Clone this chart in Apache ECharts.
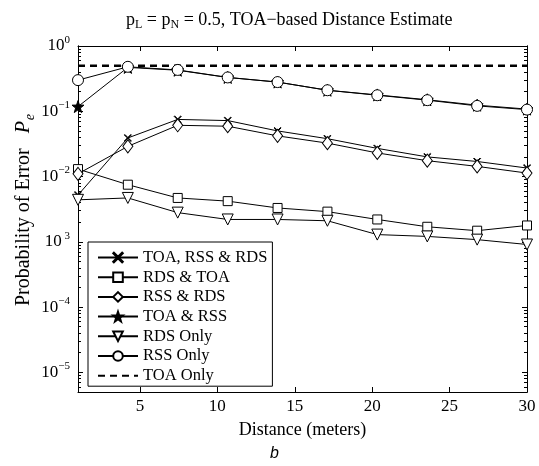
<!DOCTYPE html>
<html>
<head>
<meta charset="utf-8">
<script src="https://cdn.jsdelivr.net/npm/echarts@6/dist/echarts.min.js"></script>
<style>
  html, body { margin: 0; padding: 0; background: #fff; }
  #chart { width: 539px; height: 466px; }
</style>
</head>
<body>
<div id="chart"></div>
<script>
// distances where each curve was evaluated (meters)
const distances = [1, 4.22, 7.44, 10.67, 13.89, 17.11, 20.33, 23.56, 26.78, 30];

const toaRssRds = [0.0052, 0.039, 0.075, 0.072, 0.050, 0.038, 0.027, 0.020, 0.017, 0.0135];
const rdsToa    = [0.013, 0.0075, 0.0047, 0.0042, 0.0033, 0.0029, 0.0022, 0.0017, 0.00148, 0.00178];
const rssRds    = [0.011, 0.029, 0.061, 0.059, 0.042, 0.0325, 0.023, 0.0175, 0.0143, 0.0113];
const toaRss    = [0.118, 0.47, 0.425, 0.33, 0.28, 0.21, 0.178, 0.150, 0.124, 0.108];
const rdsOnly   = [0.0044, 0.0047, 0.0028, 0.0022, 0.0022, 0.0021, 0.00129, 0.00121, 0.00108, 0.00091];
const rssOnly   = [0.30, 0.48, 0.43, 0.33, 0.28, 0.21, 0.176, 0.148, 0.121, 0.106];
const toaOnly   = [0.5, 0.5, 0.5, 0.5, 0.5, 0.5, 0.5, 0.5, 0.5, 0.5];

const xTicks = [5, 10, 15, 20, 25, 30];
const yMajor = [1e-5, 1e-4, 1e-3, 1e-2, 1e-1, 1];
const yMinor = [];
for (let d = -6; d < 0; d++) {
  for (let m = 2; m <= 9; m++) {
    const v = m * Math.pow(10, d);
    if (v >= 5e-6) yMinor.push(v);
  }
}

const SERIF = '"Liberation Serif", "DejaVu Serif", serif';
const STAR = 'path://M0,-10 L2.35,-3.24 L9.51,-3.09 L3.8,1.24 L5.88,8.09 L0,4 L-5.88,8.09 L-3.8,1.24 L-9.51,-3.09 L-2.35,-3.24 Z';
const CROSS = 'path://M-5,-4.3 L-4.3,-5 L0,-0.7 L4.3,-5 L5,-4.3 L0.7,0 L5,4.3 L4.3,5 L0,0.7 L-4.3,5 L-5,4.3 L-0.7,0 Z';
const TRI_DOWN = 'path://M-5,-4 L5,-4 L0,5 Z';

function pairs(vals) {
  return distances.map((d, i) => [d, vals[i]]);
}

function lineSeries(name, vals, symbol, size, filled) {
  return {
    name: name,
    type: 'line',
    data: pairs(vals),
    symbol: symbol,
    symbolSize: size,
    showAllSymbol: true,
    lineStyle: { color: '#000', width: 1 },
    itemStyle: { color: filled ? '#000' : '#fff', borderColor: '#000', borderWidth: 1 },
    emphasis: { disabled: true },
    animation: false,
  };
}

function yLabel(v) {
  const e = Math.round(Math.log10(v));
  // the reference renders 10^-3 with its minus missing
  const sup = e === -3 ? ' 3' : (e === 0 ? '0' : '\u2212' + (-e));
  return '{b|10}{s|' + sup + '}';
}

const logAxisBase = {
  type: 'log',
  min: 5e-6,
  max: 1,
  splitLine: { show: false },
};

const chart = echarts.init(document.getElementById('chart'));

chart.setOption({
  animation: false,
  backgroundColor: '#fff',
  title: {
    text: '{a|p}{sub|L}{a| = p}{sub|N}{a| = 0.5, TOA\u2212based Distance Estimate}',
    left: 121,
    top: 4,
    textStyle: {
      rich: {
        a: { fontFamily: SERIF, fontSize: 18, color: '#000', lineHeight: 22, fontWeight: 'normal' },
        sub: { fontFamily: SERIF, fontSize: 12, color: '#000', lineHeight: 22, fontWeight: 'normal', padding: [9, 0, 0, 0] },
      },
    },
  },
  grid: { left: 78, right: 12, top: 46, bottom: 74, outerBoundsMode: 'none' },
  legend: {
    orient: 'vertical',
    left: 88,
    top: 242,
    itemWidth: 40,
    itemHeight: 12,
    itemGap: 2.7,
    padding: [7, 5, 2, 9],
    borderColor: '#000',
    borderWidth: 1,
    backgroundColor: '#fff',
    selectedMode: false,
    textStyle: { fontFamily: SERIF, fontSize: 16.5, lineHeight: 16, color: '#000' },
    data: [
      'TOA, RSS & RDS', 'RDS & TOA', 'RSS & RDS', 'TOA & RSS', 'RDS Only', 'RSS Only',
      { name: 'TOA Only', itemStyle: { color: 'rgba(0,0,0,0)', borderWidth: 0 } },
    ],
  },
  xAxis: [
    {
      type: 'value',
      min: 1,
      max: 30,
      name: 'Distance (meters)',
      nameLocation: 'middle',
      nameGap: 29,
      nameTextStyle: { fontFamily: SERIF, fontSize: 18, color: '#000' },
      axisLine: { lineStyle: { color: '#000', width: 1 } },
      axisTick: { inside: true, length: 5, customValues: xTicks, lineStyle: { color: '#000' } },
      axisLabel: { customValues: xTicks, fontFamily: SERIF, fontSize: 17, color: '#000', margin: 6 },
      splitLine: { show: false },
    },
    {
      type: 'value',
      position: 'top',
      min: 1,
      max: 30,
      axisLine: { lineStyle: { color: '#000', width: 1 } },
      axisTick: { inside: true, length: 5, customValues: xTicks, lineStyle: { color: '#000' } },
      axisLabel: { show: false },
      splitLine: { show: false },
    },
  ],
  yAxis: [
    Object.assign({}, logAxisBase, {
      position: 'left',
      offset: 0,
      name: '{a|Probability of Error   }{p|P}{e|e}',
      nameLocation: 'middle',
      nameRotate: 90,
      nameGap: 42,
      nameMoveOverlap: false,
      nameTextStyle: {
        padding: [0, 0, 0, 18],
        rich: {
          a: { fontFamily: SERIF, fontSize: 20, color: '#000', lineHeight: 24 },
          p: { fontFamily: SERIF, fontSize: 20, fontStyle: 'italic', color: '#000', lineHeight: 24 },
          e: { fontFamily: SERIF, fontSize: 14, fontStyle: 'italic', color: '#000', lineHeight: 24, padding: [12, 0, 0, 1] },
        },
      },
      axisLine: { lineStyle: { color: '#000', width: 1 } },
      axisTick: { inside: true, length: 5, customValues: yMajor, lineStyle: { color: '#000' } },
      axisLabel: {
        customValues: yMajor,
        formatter: yLabel,
        margin: 8,
        rich: {
          b: { fontFamily: SERIF, fontSize: 17, color: '#000' },
          s: { fontFamily: SERIF, fontSize: 11, color: '#000', padding: [0, 0, 12, 0] },
        },
      },
    }),
    Object.assign({}, logAxisBase, {
      position: 'right',
      offset: 0,
      axisLine: { lineStyle: { color: '#000', width: 1 } },
      axisTick: { inside: true, length: 5, customValues: yMajor, lineStyle: { color: '#000' } },
      axisLabel: { show: false },
    }),
    Object.assign({}, logAxisBase, {
      position: 'left',
      offset: 0,
      axisLine: { lineStyle: { color: '#000', width: 1 } },
      axisTick: { show: true, inside: true, length: 3, customValues: yMinor, lineStyle: { color: '#000' } },
      axisLabel: { show: false },
    }),
    Object.assign({}, logAxisBase, {
      position: 'right',
      offset: 0,
      axisLine: { lineStyle: { color: '#000', width: 1 } },
      axisTick: { show: true, inside: true, length: 3, customValues: yMinor, lineStyle: { color: '#000' } },
      axisLabel: { show: false },
    }),
  ],
  graphic: [
    {
      type: 'text',
      left: 270,
      top: 446,
      style: { text: 'b', fontFamily: '"Liberation Sans", Arial, sans-serif', fontStyle: 'italic', fontSize: 16, fill: '#000' },
    },
  ],
  series: [
    lineSeries('TOA, RSS & RDS', toaRssRds, CROSS, 7, true),
    lineSeries('RDS & TOA', rdsToa, 'rect', 9, false),
    lineSeries('RSS & RDS', rssRds, 'diamond', [10, 13], false),
    lineSeries('TOA & RSS', toaRss, STAR, 12, true),
    lineSeries('RDS Only', rdsOnly, TRI_DOWN, 11, false),
    lineSeries('RSS Only', rssOnly, 'circle', 11, false),
    {
      name: 'TOA Only',
      type: 'line',
      data: pairs(toaOnly),
      symbol: 'none',
      lineStyle: { color: '#000', width: 2.5, type: [7, 5] },
      itemStyle: { color: '#000' },
      emphasis: { disabled: true },
      animation: false,
    },
  ],
});
</script>
</body>
</html>
